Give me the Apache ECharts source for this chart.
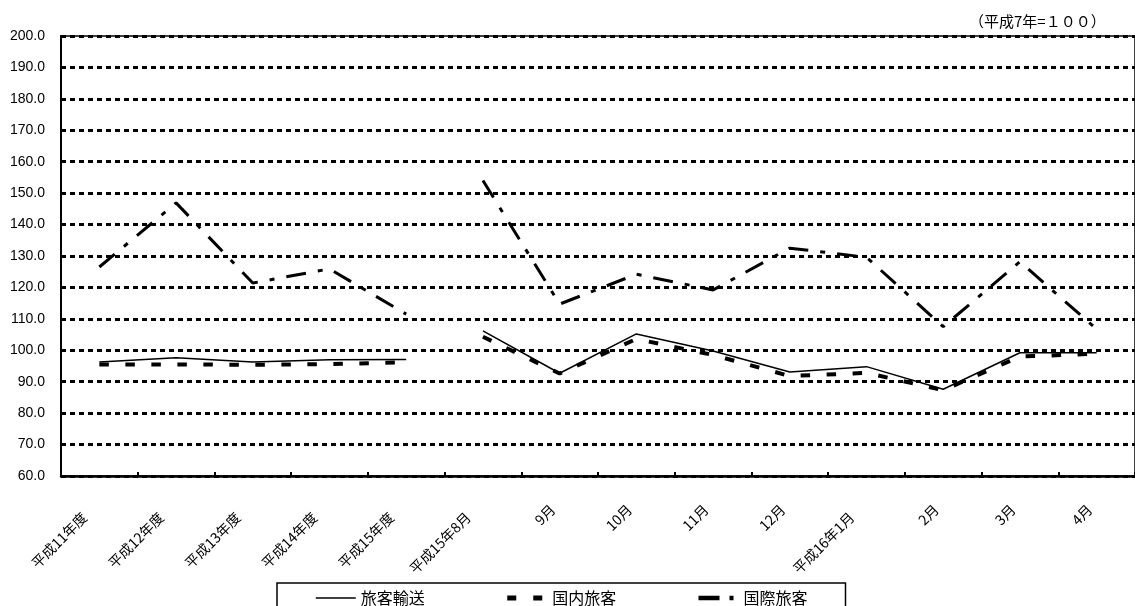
<!DOCTYPE html>
<html>
<head>
<meta charset="utf-8">
<script src="https://cdn.jsdelivr.net/npm/echarts@6/dist/echarts.min.js"></script>
<style>html,body{margin:0;padding:0;background:#fff}#c{width:1135px;height:606px}</style>
</head>
<body>
<div id="c"></div>
<script>
var categories = ['平成11年度','平成12年度','平成13年度','平成14年度','平成15年度','平成15年8月','9月','10月','11月','12月','平成16年1月','2月','3月','4月'];
var ryokaku  = [96.3, 97.6, 96.3, 97.0, 97.1, 106.2, 92.7, 105.2, 99.8, 93.1, 94.8, 87.6, 99.2, 99.2];
var kokunai  = [95.5, 95.5, 95.4, 95.6, 96.2, 104.3, 92.6, 103.6, 98.5, 91.8, 92.8, 87.3, 98.0, 98.9];
var kokusai  = [126.5, 146.9, 121.4, 125.9, 111.5, 154.0, 114.7, 124.2, 119.2, 132.5, 129.6, 107.5, 128.2, 106.7];
var seriesNames = ['旅客輸送','国内旅客','国際旅客'];
var yearlyCount = 5;
var noteText = '（平成7年=１００）';

var FONT_CJK = '"Noto Sans CJK JP", sans-serif';
var FONT_NUM = '"Liberation Sans", Arial, sans-serif';

function part(arr, from, to) {
  return arr.map(function (v, i) { return (i >= from && i < to) ? v : null; });
}
var styles = [
  { width: 1.5, type: 'solid', legendWidth: 1.5, legendType: 'solid' },
  { width: 4, type: [9.5, 16.5], legendWidth: 5, legendType: [9, 17] },
  { width: 3, type: [20, 12, 5, 12], legendWidth: 4.5, legendType: [21, 10, 4, 20] }
];
var values = [ryokaku, kokunai, kokusai];
var series = [];
values.forEach(function (arr, k) {
  [[0, yearlyCount], [yearlyCount, arr.length]].forEach(function (rg) {
    series.push({
      name: seriesNames[k],
      type: 'line',
      symbol: 'none',
      silent: true,
      animation: false,
      data: part(arr, rg[0], rg[1]),
      lineStyle: { color: '#000', width: styles[k].width, type: styles[k].type, cap: 'butt' },
      itemStyle: { color: '#000' },
      z: 3 + k
    });
  });
});

var legendData = seriesNames.map(function (n, k) {
  return { name: n, lineStyle: { color: '#000', width: styles[k].legendWidth, type: styles[k].legendType, cap: 'butt' } };
});

var xData = categories.map(function (c) {
  return { value: c, textStyle: { padding: [0, c.length > 3 ? 21 : 10, 0, 0] } };
});

var chart = echarts.init(document.getElementById('c'));
chart.setOption({
  animation: false,
  backgroundColor: '#fff',
  title: {
    text: noteText,
    left: 964, top: 9,
    textStyle: { fontFamily: FONT_CJK, fontSize: 15, fontWeight: 'normal', color: '#000' }
  },
  grid: { left: 61, top: 36, width: 1084, bottom: 130, show: true, borderColor: '#000', borderWidth: 1.5, backgroundColor: 'transparent' },
  legend: {
    data: legendData,
    left: 277, top: 583,
    itemWidth: 40, itemHeight: 14, itemGap: 80,
    padding: [7, 38, 7, 38],
    borderColor: '#000', borderWidth: 1.5,
    itemStyle: { opacity: 0, color: 'rgba(0,0,0,0)', borderWidth: 0 },
    textStyle: { fontFamily: FONT_CJK, fontSize: 16, color: '#000' }
  },
  xAxis: {
    type: 'category',
    data: xData,
    boundaryGap: true,
    axisLine: { lineStyle: { color: '#000', width: 2.5 } },
    axisTick: { show: true, inside: true, length: 4, lineStyle: { color: '#000', width: 2 } },
    axisLabel: { interval: 0, rotate: 45, margin: 24, fontFamily: FONT_CJK, fontSize: 14, color: '#000' },
    splitLine: { show: false }
  },
  yAxis: {
    type: 'value',
    min: 60, max: 200, interval: 10,
    axisLine: { show: true, lineStyle: { color: '#000', width: 2 } },
    axisTick: { show: false },
    axisLabel: { margin: 16, fontFamily: FONT_NUM, fontSize: 14, color: '#000', formatter: function (v) { return v.toFixed(1); } },
    splitLine: { show: true, lineStyle: { color: '#000', width: 3, type: [5, 4] } }
  },
  series: series
});
</script>
</body>
</html>
